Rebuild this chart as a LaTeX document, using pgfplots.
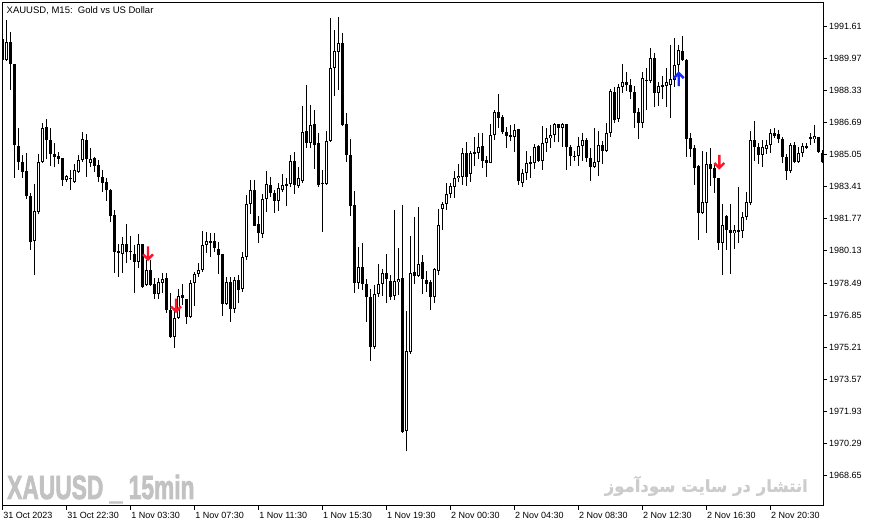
\documentclass[border=0pt]{standalone}
\usepackage{fontspec}
\setmainfont{Liberation Sans}
\newfontfamily\arabicfont[Script=Arabic, BoldFeatures={FakeBold=1.2}]{DejaVu Sans}
\newfontfamily\wmfont[BoldFeatures={FakeBold=2.5}]{Liberation Sans}
\usepackage{pgfplots}
\usepackage{pgfplotstable}
\pgfplotsset{compat=1.18}
\TeXXeTstate=1
\definecolor{arrred}{RGB}{255,20,40}
\definecolor{arrblue}{RGB}{20,40,255}
\definecolor{wm}{RGB}{194,194,194}
\definecolor{wmfa}{RGB}{204,204,204}
\pgfdeclareplotmark{dnarr}{%
 \pgfpathmoveto{\pgfqpoint{0pt}{7pt}}\pgfpathlineto{\pgfqpoint{0pt}{-6pt}}%
 \pgfpathmoveto{\pgfqpoint{-5pt}{-1pt}}\pgfpathlineto{\pgfqpoint{0pt}{-6pt}}\pgfpathlineto{\pgfqpoint{5pt}{-1pt}}%
 \pgfusepathqstroke}
\pgfdeclareplotmark{uparr}{%
 \pgfpathmoveto{\pgfqpoint{0pt}{-7pt}}\pgfpathlineto{\pgfqpoint{0pt}{6pt}}%
 \pgfpathmoveto{\pgfqpoint{-5pt}{1pt}}\pgfpathlineto{\pgfqpoint{0pt}{6pt}}\pgfpathlineto{\pgfqpoint{5pt}{1pt}}%
 \pgfusepathqstroke}
% x = bar index, o = open, h = high, l = low, c = close
\pgfplotstableread{
x o h l c
0 1990.95 1990.99 1989.85 1989.87
1 1989.87 1991.92 1989.82 1990.79
2 1990.79 1991.30 1988.34 1989.67
3 1989.67 1989.70 1983.85 1985.54
4 1985.49 1986.40 1984.26 1984.67
5 1984.67 1985.03 1983.85 1984.16
6 1984.21 1985.13 1982.78 1982.93
7 1982.93 1983.09 1980.18 1980.58
8 1980.64 1983.55 1978.90 1982.17
9 1982.12 1985.08 1982.01 1984.67
10 1984.67 1986.66 1984.62 1986.40
11 1986.45 1986.86 1984.82 1985.79
12 1985.79 1986.40 1984.46 1985.08
13 1985.08 1985.64 1984.41 1984.92
14 1984.98 1985.18 1984.57 1984.82
15 1984.87 1984.90 1983.44 1983.75
16 1983.75 1984.00 1983.65 1983.95
17 1983.85 1984.26 1983.24 1983.83
18 1983.65 1984.57 1983.60 1984.26
19 1984.16 1985.03 1984.11 1984.77
20 1984.77 1986.20 1984.67 1985.84
21 1985.79 1986.10 1983.90 1984.82
22 1984.62 1985.38 1984.41 1984.82
23 1984.87 1984.90 1984.16 1984.46
24 1984.52 1984.77 1983.65 1983.90
25 1983.90 1984.26 1983.14 1983.60
26 1983.65 1983.85 1982.68 1983.24
27 1983.24 1983.29 1981.60 1981.91
28 1981.96 1982.22 1979.00 1980.07
29 1980.12 1980.48 1978.80 1980.02
30 1979.97 1980.84 1979.00 1980.48
31 1980.48 1981.50 1979.51 1980.07
32 1980.12 1980.89 1979.67 1980.10
33 1979.97 1980.43 1977.98 1979.56
34 1979.56 1980.99 1979.26 1980.48
35 1980.48 1980.50 1978.25 1978.29
36 1978.39 1979.67 1978.35 1979.16
37 1979.16 1979.67 1978.35 1978.39
38 1978.44 1978.75 1977.67 1977.93
39 1977.93 1978.75 1977.67 1978.54
40 1978.49 1979.00 1977.98 1978.69
41 1978.75 1979.00 1976.96 1977.11
42 1977.11 1977.98 1975.68 1975.73
43 1975.73 1977.21 1975.17 1976.70
44 1976.70 1978.19 1976.68 1977.83
45 1977.88 1978.44 1977.37 1977.72
46 1977.67 1977.70 1976.40 1976.76
47 1976.76 1978.64 1976.70 1978.49
48 1978.49 1979.05 1977.32 1978.95
49 1978.95 1979.51 1978.80 1979.16
50 1979.16 1981.15 1979.05 1980.43
51 1980.43 1981.10 1980.02 1980.64
52 1980.64 1981.04 1979.82 1980.53
53 1980.64 1981.04 1980.07 1980.28
54 1980.23 1980.58 1978.95 1979.92
55 1979.97 1980.00 1976.81 1977.42
56 1977.42 1978.80 1977.37 1978.54
57 1978.54 1978.80 1976.50 1977.16
58 1977.16 1978.80 1976.96 1978.64
59 1978.64 1978.90 1977.47 1978.13
60 1978.19 1980.07 1978.03 1979.82
61 1979.82 1982.98 1979.67 1982.52
62 1982.52 1983.75 1982.01 1983.24
63 1983.24 1983.75 1981.38 1981.40
64 1981.50 1981.91 1980.53 1981.04
65 1980.99 1983.03 1980.79 1982.78
66 1982.78 1984.21 1982.12 1983.55
67 1983.49 1983.90 1982.88 1983.09
68 1983.09 1983.24 1982.06 1982.68
69 1982.68 1983.60 1982.17 1983.34
70 1983.24 1984.06 1983.14 1983.49
71 1983.55 1983.85 1982.42 1983.44
72 1983.55 1985.03 1983.39 1984.72
73 1984.72 1985.18 1983.03 1983.49
74 1983.44 1984.41 1983.34 1983.85
75 1983.70 1987.53 1983.60 1986.20
76 1986.25 1988.60 1985.38 1985.64
77 1985.64 1987.58 1985.38 1986.56
78 1986.61 1987.32 1984.31 1985.54
79 1985.64 1986.15 1983.39 1983.49
80 1983.60 1984.26 1981.09 1983.55
81 1983.55 1986.25 1983.49 1985.74
82 1985.74 1992.02 1985.72 1989.47
83 1989.47 1991.41 1988.04 1990.33
84 1990.28 1992.07 1988.34 1990.74
85 1990.74 1991.25 1986.51 1986.56
86 1986.61 1987.17 1984.67 1985.03
87 1985.03 1985.84 1981.91 1982.42
88 1982.47 1983.19 1977.98 1978.49
89 1978.49 1980.33 1978.19 1979.31
90 1979.31 1980.53 1978.13 1978.44
91 1978.44 1978.69 1976.50 1977.78
92 1977.78 1978.19 1974.51 1975.22
93 1975.22 1978.39 1975.12 1977.93
94 1977.93 1979.46 1977.78 1978.44
95 1978.44 1979.21 1977.83 1979.00
96 1979.00 1979.97 1977.47 1978.69
97 1978.59 1978.90 1977.62 1977.78
98 1977.83 1982.22 1977.62 1978.59
99 1978.54 1980.28 1977.88 1978.69
100 1978.75 1982.47 1970.84 1970.89
101 1970.94 1977.06 1969.92 1975.02
102 1974.97 1980.89 1974.87 1979.00
103 1979.05 1981.86 1978.44 1978.85
104 1978.85 1982.37 1978.83 1979.46
105 1979.56 1979.92 1977.93 1978.69
106 1978.64 1979.10 1978.03 1978.44
107 1978.54 1978.64 1977.11 1977.78
108 1977.78 1979.26 1977.47 1979.21
109 1979.10 1982.27 1978.90 1981.45
110 1982.27 1982.62 1981.20 1982.52
111 1982.52 1983.60 1982.22 1983.03
112 1983.03 1983.60 1982.83 1983.44
113 1983.39 1984.21 1982.83 1983.85
114 1983.85 1984.57 1983.65 1983.95
115 1983.90 1985.38 1983.49 1985.13
116 1985.13 1985.69 1983.44 1983.90
117 1984.06 1985.23 1983.65 1985.13
118 1985.13 1985.94 1984.46 1985.15
119 1985.13 1986.15 1984.82 1985.43
120 1985.49 1986.15 1984.36 1984.72
121 1984.77 1984.98 1983.90 1984.62
122 1984.62 1986.61 1984.60 1986.05
123 1986.05 1987.32 1985.79 1987.22
124 1987.22 1988.14 1986.40 1986.91
125 1986.96 1987.07 1986.10 1986.20
126 1986.20 1986.45 1985.38 1985.99
127 1985.99 1986.56 1985.74 1986.01
128 1985.94 1986.61 1985.18 1986.30
129 1986.35 1986.38 1983.49 1983.70
130 1983.60 1984.31 1983.39 1984.11
131 1984.11 1985.23 1983.75 1984.62
132 1984.62 1984.98 1983.85 1984.64
133 1984.62 1985.59 1984.31 1985.43
134 1985.49 1985.54 1984.70 1984.72
135 1984.72 1986.50 1984.26 1985.64
136 1985.64 1986.40 1985.18 1985.89
137 1985.89 1986.56 1985.38 1986.05
138 1986.05 1986.66 1985.69 1986.61
139 1986.61 1986.63 1985.69 1986.40
140 1986.40 1986.66 1985.43 1986.61
141 1986.61 1986.63 1984.26 1985.43
142 1985.43 1985.54 1984.46 1984.98
143 1984.98 1985.23 1984.72 1984.96
144 1984.98 1985.94 1984.46 1985.49
145 1985.49 1986.15 1984.72 1985.79
146 1985.79 1985.89 1984.67 1984.87
147 1984.87 1985.38 1983.70 1984.41
148 1984.41 1986.40 1984.36 1984.67
149 1984.67 1986.25 1983.95 1985.54
150 1985.54 1985.74 1984.57 1985.23
151 1985.23 1986.66 1985.18 1986.15
152 1986.15 1988.39 1985.94 1988.29
153 1988.24 1988.50 1986.66 1986.81
154 1986.86 1988.65 1986.71 1988.50
155 1988.50 1989.67 1988.19 1988.75
156 1988.75 1989.26 1988.29 1988.60
157 1988.60 1988.90 1987.88 1988.24
158 1988.24 1988.55 1986.40 1987.17
159 1987.22 1987.42 1985.84 1986.66
160 1986.66 1989.26 1986.40 1988.96
161 1988.85 1989.47 1987.32 1988.87
162 1988.80 1990.49 1988.70 1989.98
163 1989.98 1990.23 1987.48 1988.19
164 1988.19 1988.75 1987.53 1988.55
165 1988.55 1989.06 1987.88 1988.57
166 1988.55 1989.47 1987.48 1988.75
167 1988.60 1990.64 1986.91 1988.90
168 1988.85 1990.99 1988.50 1989.62
169 1989.62 1990.64 1988.70 1990.39
170 1990.33 1991.10 1989.85 1989.87
171 1989.87 1989.92 1984.92 1985.84
172 1985.89 1986.15 1984.92 1985.33
173 1985.38 1985.54 1983.49 1984.36
174 1984.46 1984.49 1980.69 1982.06
175 1982.06 1985.23 1982.01 1982.63
176 1982.57 1985.18 1981.04 1984.57
177 1984.57 1985.38 1983.44 1984.31
178 1984.36 1984.57 1983.09 1983.85
179 1983.85 1983.87 1980.18 1980.53
180 1980.53 1982.52 1978.90 1981.45
181 1981.91 1981.96 1980.18 1981.20
182 1981.20 1982.52 1978.95 1981.04
183 1981.04 1981.45 1980.23 1981.20
184 1981.15 1983.39 1980.53 1981.17
185 1981.15 1982.12 1980.79 1981.86
186 1981.86 1983.14 1981.71 1982.63
187 1982.57 1986.25 1982.47 1985.79
188 1985.79 1986.76 1984.72 1985.43
189 1985.43 1985.64 1984.57 1985.03
190 1985.03 1985.79 1984.41 1985.43
191 1985.33 1985.79 1985.08 1985.54
192 1985.54 1986.35 1985.13 1986.15
193 1986.15 1986.40 1985.89 1985.99
194 1986.10 1986.30 1985.64 1985.84
195 1985.84 1985.94 1984.62 1984.92
196 1984.92 1985.08 1983.75 1984.21
197 1984.21 1985.64 1984.11 1985.54
198 1985.54 1985.69 1984.62 1984.67
199 1984.67 1985.43 1984.62 1985.13
200 1985.13 1985.64 1984.92 1985.49
201 1985.49 1985.64 1985.33 1985.38
202 1985.94 1986.15 1985.54 1985.89
203 1985.84 1986.56 1985.64 1985.99
204 1985.94 1985.96 1985.16 1985.18
205 1985.13 1985.28 1984.62 1984.67
}\candles
\begin{document}
\begin{tikzpicture}
\useasboundingbox (0,0) rectangle (876pt,527pt);
\begin{axis}[
 at={(2.7pt,21.3pt)}, anchor=south west,
 scale only axis, width=820.6pt, height=503pt,
 xmin=0, xmax=205.25, ymin=1967.12, ymax=1992.80,
 axis line style={line width=0.9pt, black},
 xtick={0,16,...,192},
 xticklabels={31 Oct 2023, 31 Oct 22:30, 1 Nov 03:30, 1 Nov 07:30, 1 Nov 11:30, 1 Nov 15:30, 1 Nov 19:30, 2 Nov 00:30, 2 Nov 04:30, 2 Nov 08:30, 2 Nov 12:30, 2 Nov 16:30, 2 Nov 20:30},
 ytick={1968.65,1970.29,1971.93,1973.57,1975.21,1976.85,1978.49,1980.13,1981.77,1983.41,1985.05,1986.69,1988.33,1989.97,1991.61},
 yticklabels={1968.65,1970.29,1971.93,1973.57,1975.21,1976.85,1978.49,1980.13,1981.77,1983.41,1985.05,1986.69,1988.33,1989.97,1991.61},
 xtick pos=bottom, ytick pos=right, yticklabel pos=right,
 tick align=outside, major tick length=4pt, tick style={black, line width=0.8pt},
 ticklabel style={font=\fontsize{9}{10}\selectfont},
 xticklabel style={anchor=north west, inner xsep=0.5pt, inner ysep=2pt},
 yticklabel style={anchor=west, inner xsep=1.5pt},
 unbounded coords=discard,
 clip=true,
]
% wicks
\addplot[draw=none, mark=none, forget plot,
  error bars/.cd, y dir=both, y explicit, error mark=none,
  error bar style={draw=black, line width=0.9pt}]
  table[x=x, y expr={(\thisrow{h}+\thisrow{l})/2},
        y error plus expr={(\thisrow{h}-\thisrow{l})/2},
        y error minus expr={(\thisrow{h}-\thisrow{l})/2}] {\candles};
% bodies (black outline / fill)
\addplot[draw=none, mark=none, forget plot,
  error bars/.cd, y dir=both, y explicit, error mark=none,
  error bar style={draw=black, line width=3.3pt}]
  table[x=x, y expr={(\thisrow{o}+\thisrow{c})/2},
        y error plus expr={max(abs(\thisrow{o}-\thisrow{c})/2,0.024)},
        y error minus expr={max(abs(\thisrow{o}-\thisrow{c})/2,0.024)}] {\candles};
% hollow interior of rising candles
\addplot[draw=none, mark=none, forget plot,
  restrict expr to domain={\thisrow{c}-\thisrow{o}}{0.1:100},
  error bars/.cd, y dir=both, y explicit, error mark=none,
  error bar style={draw=white, line width=1.5pt}]
  table[x=x, y expr={(\thisrow{o}+\thisrow{c})/2},
        y error plus expr={(\thisrow{c}-\thisrow{o})/2-0.046},
        y error minus expr={(\thisrow{c}-\thisrow{o})/2-0.046}] {\candles};
\addplot[only marks, mark=dnarr, mark options={draw=arrred, line width=2.4pt, solid}] coordinates {(36.35,1980.00) (43.35,1977.34) (179.25,1984.67)};
\addplot[only marks, mark=uparr, mark options={draw=arrblue, line width=2.4pt, solid}] coordinates {(169.1,1988.90)};
\end{axis}
\node[anchor=base west, inner sep=0pt, font=\fontsize{9.5}{11}\selectfont] at (6.5pt,513pt) {XAUUSD, M15:\ \ Gold vs US Dollar};
\node[anchor=base west, inner sep=0pt, text=wm] at (7pt,28pt) {\wmfont\bfseries\fontsize{33.5}{36}\selectfont\scalebox{0.68}[1]{XAUUSD \_ 15min}};
\node[anchor=east, inner sep=0pt, text=wmfa] at (808pt,41pt) {\arabicfont\bfseries\fontsize{16.5}{19}\selectfont\beginR انتشار در سایت سودآموز\endR};
\end{tikzpicture}
\end{document}
